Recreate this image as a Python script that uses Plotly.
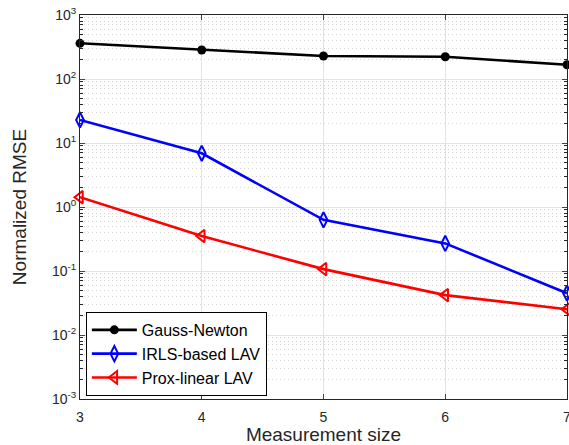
import plotly.graph_objects as go

measurement_size = [3, 4, 5, 6, 7]
gauss_newton = [361, 284, 229, 223, 167]
irls_lav = [22.9, 6.9, 0.63, 0.27, 0.045]
prox_linear_lav = [1.42, 0.352, 0.107, 0.042, 0.0252]

y_tick_vals = [1e-3, 1e-2, 1e-1, 1e0, 1e1, 1e2, 1e3]
y_tick_text = ["10<sup>-3</sup>", "10<sup>-2</sup>", "10<sup>-1</sup>", "10<sup>0</sup>",
               "10<sup>1</sup>", "10<sup>2</sup>", "10<sup>3</sup>"]
x_tick_vals = [3, 4, 5, 6, 7]

font_family = "Liberation Sans, Arial, sans-serif"

fig = go.Figure()
fig.add_trace(go.Scatter(
    x=measurement_size, y=gauss_newton, name="Gauss-Newton", mode="lines+markers",
    line=dict(color="black", width=2.6), cliponaxis=False,
    marker=dict(symbol="circle", size=9, color="black")))
fig.add_trace(go.Scatter(
    x=measurement_size, y=irls_lav, name="IRLS-based LAV", mode="lines+markers",
    line=dict(color="#0000ff", width=2.6), cliponaxis=False,
    marker=dict(symbol="diamond-tall-open", size=11, color="#0000ff", line=dict(width=2))))
fig.add_trace(go.Scatter(
    x=measurement_size, y=prox_linear_lav, name="Prox-linear LAV", mode="lines+markers",
    line=dict(color="#ff0000", width=2.6), cliponaxis=False,
    marker=dict(symbol="triangle-left-open", size=11, color="#ff0000", line=dict(width=2))))

fig.update_layout(
    width=569, height=445,
    margin=dict(l=80, r=2, t=15, b=46),
    paper_bgcolor="white", plot_bgcolor="white",
    font=dict(family=font_family, color="#262626", size=13),
    showlegend=True,
    legend=dict(x=0.012, y=0.008, xanchor="left", yanchor="bottom",
                bgcolor="white", bordercolor="black", borderwidth=1,
                font=dict(size=16, color="black"), tracegroupgap=0,
                itemwidth=45),
)
fig.update_xaxes(
    range=[3, 7], tickvals=x_tick_vals, ticks="inside", ticklen=5, automargin=False,
    showline=True, linecolor="#262626", linewidth=1, mirror="ticks",
    showgrid=True, gridcolor="#e3e3e3", gridwidth=1, zeroline=False,
    ticklabeloverflow="allow", ticklabelstandoff=5,
    title=dict(text="Measurement size", font=dict(size=19, color="#262626"), standoff=4),
    tickfont=dict(size=14, color="#262626"),
)
fig.update_yaxes(
    type="log", range=[-3, 3], tickvals=y_tick_vals, ticktext=y_tick_text,
    ticks="inside", ticklen=5, automargin=False,
    showline=True, linecolor="#262626", linewidth=1, mirror="ticks",
    showgrid=True, gridcolor="#e3e3e3", gridwidth=1, zeroline=False,
    minor=dict(ticks="inside", ticklen=3, dtick="D1", showgrid=True,
               gridcolor="#d4d4d4", griddash="1px,3px", gridwidth=1, tickcolor="#262626"),
    title=dict(text="Normalized RMSE", font=dict(size=19, color="#262626"), standoff=20),
    tickfont=dict(size=14, color="#262626"),
)

fig.write_html("out.html", config={"displayModeBar": False},
               post_script="document.body.style.margin='0px';")
